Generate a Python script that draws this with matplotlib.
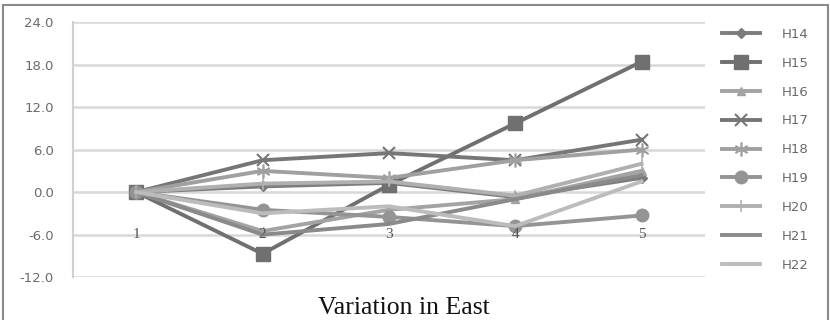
import numpy as np
import matplotlib.pyplot as plt
from matplotlib.patches import Rectangle

# category axis and y ticks
categories = ['1', '2', '3', '4', '5']
yticks = [-12, -6, 0, 6, 12, 18, 24]

# series values
H14 = [0, 0.8, 1.3, -0.7, 2.0]
H15 = [0, -8.7, 1.0, 9.7, 18.4]
H16 = [0, -5.5, -2.5, -1.0, 3.0]
H17 = [0, 4.5, 5.5, 4.5, 7.4]
H18 = [0, 3.0, 2.0, 4.5, 6.0]
H19 = [0, -2.5, -3.5, -4.8, -3.3]
H20 = [0, 1.2, 1.5, -0.5, 4.0]
H21 = [0, -6.0, -4.5, -1.0, 2.4]
H22 = [0, -3.0, -2.0, -4.8, 1.5]

series = {'H14': H14, 'H15': H15, 'H16': H16, 'H17': H17, 'H18': H18,
          'H19': H19, 'H20': H20, 'H21': H21, 'H22': H22}

styles = {
    'H14': dict(color='#7d7d7d', marker='D', ms=5),
    'H15': dict(color='#707070', marker='s', ms=10),
    'H16': dict(color='#a3a3a3', marker='^', ms=6),
    'H17': dict(color='#767676', marker='x', ms=9, mew=1.5),
    'H18': dict(color='#a0a0a0', marker=(6, 2, 0), ms=10, mew=1.2),
    'H19': dict(color='#949494', marker='o', ms=9),
    'H20': dict(color='#b0b0b0', marker='|', ms=9, mew=1.2),
    'H21': dict(color='#8a8a8a', marker=None),
    'H22': dict(color='#bcbcbc', marker=None),
}

fig = plt.figure(figsize=(8.3, 3.2), dpi=100)
ax = fig.add_axes([0.088, 0.134, 0.761, 0.797])

x = np.arange(len(categories))
for name, vals in series.items():
    st = styles[name]
    ax.plot(x, vals, color=st['color'], lw=2.8, marker=st['marker'],
            markersize=st.get('ms', 6), markeredgewidth=st.get('mew', 1),
            label=name, solid_joinstyle='round')

ax.set_xlim(-0.5, len(categories) - 0.5)
ax.set_ylim(-12, 24)
ax.set_yticks(yticks)
ax.set_yticklabels([f'{v:.1f}' for v in yticks], color='#6a6a6a', fontsize=9.5)
ax.set_xticks([])
ax.tick_params(axis='y', length=0, pad=14)
ax.yaxis.grid(True, color='#d8d8d8', lw=1.8)
ax.set_axisbelow(True)
for s in ['top', 'right', 'bottom']:
    ax.spines[s].set_visible(False)
ax.spines['left'].set_color('#d0d0d0')
ax.spines['left'].set_linewidth(1.5)

# category labels sit at the -6 level as in the original
for i, c in enumerate(categories):
    ax.text(i, -6, c, ha='center', va='center', fontsize=11,
            family='Liberation Serif', color='#555555')

leg = ax.legend(loc='upper left', bbox_to_anchor=(0.855, 0.95),
                bbox_transform=fig.transFigure, frameon=False,
                handlelength=2.9, labelspacing=1.2, fontsize=9.5,
                handletextpad=1.7)
for t in leg.get_texts():
    t.set_color('#6a6a6a')

# outer chart frame and the white caption box
fig.patches.append(Rectangle((3 / 830, -0.05), 825 / 830, 1 - 5 / 320 + 0.05,
                             transform=fig.transFigure, fill=False,
                             edgecolor='#8a8a8a', lw=1.5))
fig.patches.append(Rectangle((255 / 830, 0), 350 / 830, 38 / 320,
                             transform=fig.transFigure, facecolor='white',
                             edgecolor='none', zorder=5))
fig.text(0.486, 0.002, 'Variation in East', ha='center', va='bottom',
         fontsize=18.5, family='Liberation Serif', color='#111111', zorder=6)

fig.savefig('out.png', dpi=100)
